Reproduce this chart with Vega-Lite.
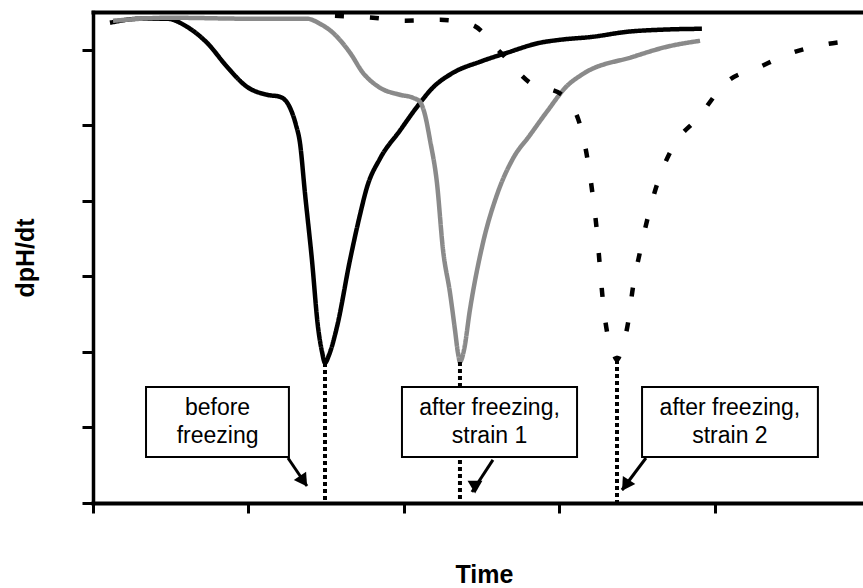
{
  "$schema": "https://vega.github.io/schema/vega-lite/v6.json",
  "width": 770,
  "height": 491,
  "autosize": {"type": "none"},
  "padding": {"left": 93, "top": 12, "right": 0, "bottom": 85},
  "background": "white",
  "config": {"view": {"stroke": null}, "font": "Liberation Sans"},
  "datasets": {
    "curves": [
      {"series": "before freezing", "t": 0.109, "v": 6.358},
      {"series": "before freezing", "t": 0.302, "v": 6.411},
      {"series": "before freezing", "t": 0.476, "v": 6.411},
      {"series": "before freezing", "t": 0.604, "v": 6.305},
      {"series": "before freezing", "t": 0.733, "v": 6.093},
      {"series": "before freezing", "t": 0.862, "v": 5.775},
      {"series": "before freezing", "t": 0.990, "v": 5.510},
      {"series": "before freezing", "t": 1.119, "v": 5.404},
      {"series": "before freezing", "t": 1.203, "v": 5.377},
      {"series": "before freezing", "t": 1.267, "v": 5.232},
      {"series": "before freezing", "t": 1.305, "v": 5.007},
      {"series": "before freezing", "t": 1.331, "v": 4.768},
      {"series": "before freezing", "t": 1.363, "v": 4.106},
      {"series": "before freezing", "t": 1.408, "v": 3.219},
      {"series": "before freezing", "t": 1.447, "v": 2.331},
      {"series": "before freezing", "t": 1.473, "v": 2.000},
      {"series": "before freezing", "t": 1.492, "v": 1.854},
      {"series": "before freezing", "t": 1.518, "v": 1.960},
      {"series": "before freezing", "t": 1.569, "v": 2.331},
      {"series": "before freezing", "t": 1.653, "v": 3.219},
      {"series": "before freezing", "t": 1.717, "v": 3.815},
      {"series": "before freezing", "t": 1.762, "v": 4.180},
      {"series": "before freezing", "t": 1.846, "v": 4.560},
      {"series": "before freezing", "t": 1.974, "v": 4.930},
      {"series": "before freezing", "t": 2.084, "v": 5.245},
      {"series": "before freezing", "t": 2.186, "v": 5.500},
      {"series": "before freezing", "t": 2.315, "v": 5.695},
      {"series": "before freezing", "t": 2.489, "v": 5.841},
      {"series": "before freezing", "t": 2.662, "v": 5.960},
      {"series": "before freezing", "t": 2.875, "v": 6.093},
      {"series": "before freezing", "t": 3.003, "v": 6.132},
      {"series": "before freezing", "t": 3.215, "v": 6.172},
      {"series": "before freezing", "t": 3.434, "v": 6.238},
      {"series": "before freezing", "t": 3.646, "v": 6.265},
      {"series": "before freezing", "t": 3.916, "v": 6.278},

      {"series": "after freezing, strain 1", "t": 0.129, "v": 6.384},
      {"series": "after freezing, strain 1", "t": 0.495, "v": 6.424},
      {"series": "after freezing, strain 1", "t": 1.010, "v": 6.411},
      {"series": "after freezing, strain 1", "t": 1.376, "v": 6.411},
      {"series": "after freezing, strain 1", "t": 1.460, "v": 6.344},
      {"series": "after freezing, strain 1", "t": 1.543, "v": 6.225},
      {"series": "after freezing, strain 1", "t": 1.653, "v": 5.960},
      {"series": "after freezing, strain 1", "t": 1.736, "v": 5.695},
      {"series": "after freezing, strain 1", "t": 1.846, "v": 5.497},
      {"series": "after freezing, strain 1", "t": 1.974, "v": 5.404},
      {"series": "after freezing, strain 1", "t": 2.058, "v": 5.364},
      {"series": "after freezing, strain 1", "t": 2.103, "v": 5.311},
      {"series": "after freezing, strain 1", "t": 2.135, "v": 5.139},
      {"series": "after freezing, strain 1", "t": 2.167, "v": 4.808},
      {"series": "after freezing, strain 1", "t": 2.212, "v": 4.238},
      {"series": "after freezing, strain 1", "t": 2.251, "v": 3.351},
      {"series": "after freezing, strain 1", "t": 2.296, "v": 2.781},
      {"series": "after freezing, strain 1", "t": 2.328, "v": 2.291},
      {"series": "after freezing, strain 1", "t": 2.347, "v": 1.987},
      {"series": "after freezing, strain 1", "t": 2.360, "v": 1.868},
      {"series": "after freezing, strain 1", "t": 2.386, "v": 2.026},
      {"series": "after freezing, strain 1", "t": 2.424, "v": 2.556},
      {"series": "after freezing, strain 1", "t": 2.508, "v": 3.444},
      {"series": "after freezing, strain 1", "t": 2.598, "v": 4.080},
      {"series": "after freezing, strain 1", "t": 2.701, "v": 4.560},
      {"series": "after freezing, strain 1", "t": 2.810, "v": 4.870},
      {"series": "after freezing, strain 1", "t": 2.919, "v": 5.180},
      {"series": "after freezing, strain 1", "t": 3.048, "v": 5.520},
      {"series": "after freezing, strain 1", "t": 3.151, "v": 5.680},
      {"series": "after freezing, strain 1", "t": 3.473, "v": 5.907},
      {"series": "after freezing, strain 1", "t": 3.691, "v": 6.040},
      {"series": "after freezing, strain 1", "t": 3.904, "v": 6.119},

      {"series": "after freezing, strain 2", "t": 1.556, "v": 6.450},
      {"series": "after freezing, strain 2", "t": 1.801, "v": 6.424},
      {"series": "after freezing, strain 2", "t": 2.006, "v": 6.384},
      {"series": "after freezing, strain 2", "t": 2.232, "v": 6.397},
      {"series": "after freezing, strain 2", "t": 2.437, "v": 6.331},
      {"series": "after freezing, strain 2", "t": 2.617, "v": 5.974},
      {"series": "after freezing, strain 2", "t": 2.810, "v": 5.563},
      {"series": "after freezing, strain 2", "t": 3.016, "v": 5.404},
      {"series": "after freezing, strain 2", "t": 3.132, "v": 5.007},
      {"series": "after freezing, strain 2", "t": 3.183, "v": 4.517},
      {"series": "after freezing, strain 2", "t": 3.215, "v": 4.053},
      {"series": "after freezing, strain 2", "t": 3.241, "v": 3.589},
      {"series": "after freezing, strain 2", "t": 3.260, "v": 3.126},
      {"series": "after freezing, strain 2", "t": 3.280, "v": 2.662},
      {"series": "after freezing, strain 2", "t": 3.312, "v": 2.199},
      {"series": "after freezing, strain 2", "t": 3.344, "v": 2.000},
      {"series": "after freezing, strain 2", "t": 3.370, "v": 1.894},
      {"series": "after freezing, strain 2", "t": 3.402, "v": 2.053},
      {"series": "after freezing, strain 2", "t": 3.441, "v": 2.384},
      {"series": "after freezing, strain 2", "t": 3.473, "v": 2.861},
      {"series": "after freezing, strain 2", "t": 3.518, "v": 3.325},
      {"series": "after freezing, strain 2", "t": 3.569, "v": 3.788},
      {"series": "after freezing, strain 2", "t": 3.633, "v": 4.252},
      {"series": "after freezing, strain 2", "t": 3.730, "v": 4.715},
      {"series": "after freezing, strain 2", "t": 3.891, "v": 5.099},
      {"series": "after freezing, strain 2", "t": 4.077, "v": 5.576},
      {"series": "after freezing, strain 2", "t": 4.277, "v": 5.762},
      {"series": "after freezing, strain 2", "t": 4.495, "v": 5.960},
      {"series": "after freezing, strain 2", "t": 4.695, "v": 6.066},
      {"series": "after freezing, strain 2", "t": 4.913, "v": 6.132},
      {"series": "after freezing, strain 2", "t": 4.952, "v": 6.146}
    ],
    "minima": [
      {"label": "before freezing", "t": 1.492, "v": 1.854},
      {"label": "after freezing, strain 1", "t": 2.360, "v": 1.868},
      {"label": "after freezing, strain 2", "t": 3.370, "v": 1.894}
    ],
    "notes": [
      {"label": "before freezing", "text": "before\nfreezing",
       "x0": 0.341, "x1": 1.260, "y0": 0.609, "y1": 1.536, "cx": 0.801, "cy": 1.073,
       "ax": 1.254, "ay": 0.596, "tx": 1.376, "ty": 0.225, "hx": 1.354, "hy": 0.288},
      {"label": "after freezing, strain 1", "text": "after freezing,\nstrain 1",
       "x0": 1.987, "x1": 3.113, "y0": 0.609, "y1": 1.536, "cx": 2.550, "cy": 1.073,
       "ax": 2.572, "ay": 0.570, "tx": 2.437, "ty": 0.146, "hx": 2.457, "hy": 0.210},
      {"label": "after freezing, strain 2", "text": "after freezing,\nstrain 2",
       "x0": 3.531, "x1": 4.662, "y0": 0.609, "y1": 1.536, "cx": 4.096, "cy": 1.073,
       "ax": 3.556, "ay": 0.596, "tx": 3.402, "ty": 0.172, "hx": 3.425, "hy": 0.233}
    ]
  },
  "layer": [
    {
      "data": {"name": "curves"},
      "mark": {"type": "line", "interpolate": "monotone", "strokeWidth": 4.5, "strokeCap": "butt", "clip": true},
      "encoding": {
        "x": {
          "field": "t", "type": "quantitative",
          "scale": {"domain": [0, 4.952], "nice": false, "zero": false},
          "axis": {
            "orient": "bottom", "values": [0, 1, 2, 3, 4], "labels": false, "grid": false,
            "domainColor": "#000", "domainWidth": 4, "domainCap": "square",
            "tickColor": "#000", "tickWidth": 3, "tickSize": 10,
            "title": "Time", "titleFontSize": 25, "titleFontWeight": "bold", "titleColor": "#000",
            "titlePadding": 48, "titleX": 391
          }
        },
        "y": {
          "field": "v", "type": "quantitative",
          "scale": {"domain": [0, 6.5], "nice": false, "zero": false},
          "axis": {
            "orient": "left", "values": [0, 1, 2, 3, 4, 5, 6], "labels": false, "grid": false,
            "domainColor": "#000", "domainWidth": 3.5, "domainCap": "square",
            "tickColor": "#000", "tickWidth": 3, "tickSize": 11,
            "title": "dpH/dt", "titleFontSize": 25, "titleFontWeight": "bold", "titleColor": "#000",
            "titlePadding": 42
          }
        },
        "color": {
          "field": "series", "type": "nominal", "legend": null,
          "scale": {"domain": ["before freezing", "after freezing, strain 1", "after freezing, strain 2"],
                    "range": ["#000000", "#8a8a8a", "#000000"]}
        },
        "strokeDash": {
          "field": "series", "type": "nominal", "legend": null,
          "scale": {"domain": ["before freezing", "after freezing, strain 1", "after freezing, strain 2"],
                    "range": [[1, 0], [1, 0], [9, 26]]}
        }
      }
    },
    {
      "data": {"name": "minima"},
      "mark": {"type": "rule", "color": "#000", "strokeWidth": 4, "strokeDash": [4, 3]},
      "encoding": {
        "x": {"field": "t", "type": "quantitative", "axis": null},
        "y": {"field": "v", "type": "quantitative"},
        "y2": {"datum": 0}
      }
    },
    {
      "data": {"name": "notes"},
      "mark": {"type": "rule", "color": "#000", "strokeWidth": 3},
      "encoding": {
        "x": {"field": "ax", "type": "quantitative", "axis": null},
        "y": {"field": "ay", "type": "quantitative"},
        "x2": {"field": "tx"},
        "y2": {"field": "ty"}
      }
    },
    {
      "data": {"name": "notes"},
      "mark": {"type": "point", "shape": "triangle-up", "filled": true, "color": "#000", "opacity": 1, "size": 220},
      "encoding": {
        "x": {"field": "hx", "type": "quantitative", "axis": null},
        "y": {"field": "hy", "type": "quantitative"},
        "angle": {
          "field": "label", "type": "nominal", "legend": null,
          "scale": {"domain": ["before freezing", "after freezing, strain 1", "after freezing, strain 2"],
                    "range": [146, 213, 217]}
        }
      }
    },
    {
      "data": {"name": "notes"},
      "mark": {"type": "rect", "fill": "white", "stroke": "#000", "strokeWidth": 2},
      "encoding": {
        "x": {
          "field": "x0", "type": "quantitative",
          "axis": {"orient": "top", "labels": false, "ticks": false, "grid": false, "title": null,
                   "domainColor": "#000", "domainWidth": 4, "domainCap": "square"}
        },
        "x2": {"field": "x1"},
        "y": {"field": "y0", "type": "quantitative"},
        "y2": {"field": "y1"}
      }
    },
    {
      "data": {"name": "notes"},
      "mark": {"type": "text", "lineBreak": "\n", "fontSize": 23, "lineHeight": 28, "align": "center", "baseline": "middle", "dy": -14, "color": "#000"},
      "encoding": {
        "x": {"field": "cx", "type": "quantitative", "axis": null},
        "y": {"field": "cy", "type": "quantitative"},
        "text": {"field": "text"}
      }
    }
  ],
  "resolve": {"axis": {"x": "independent"}}
}
